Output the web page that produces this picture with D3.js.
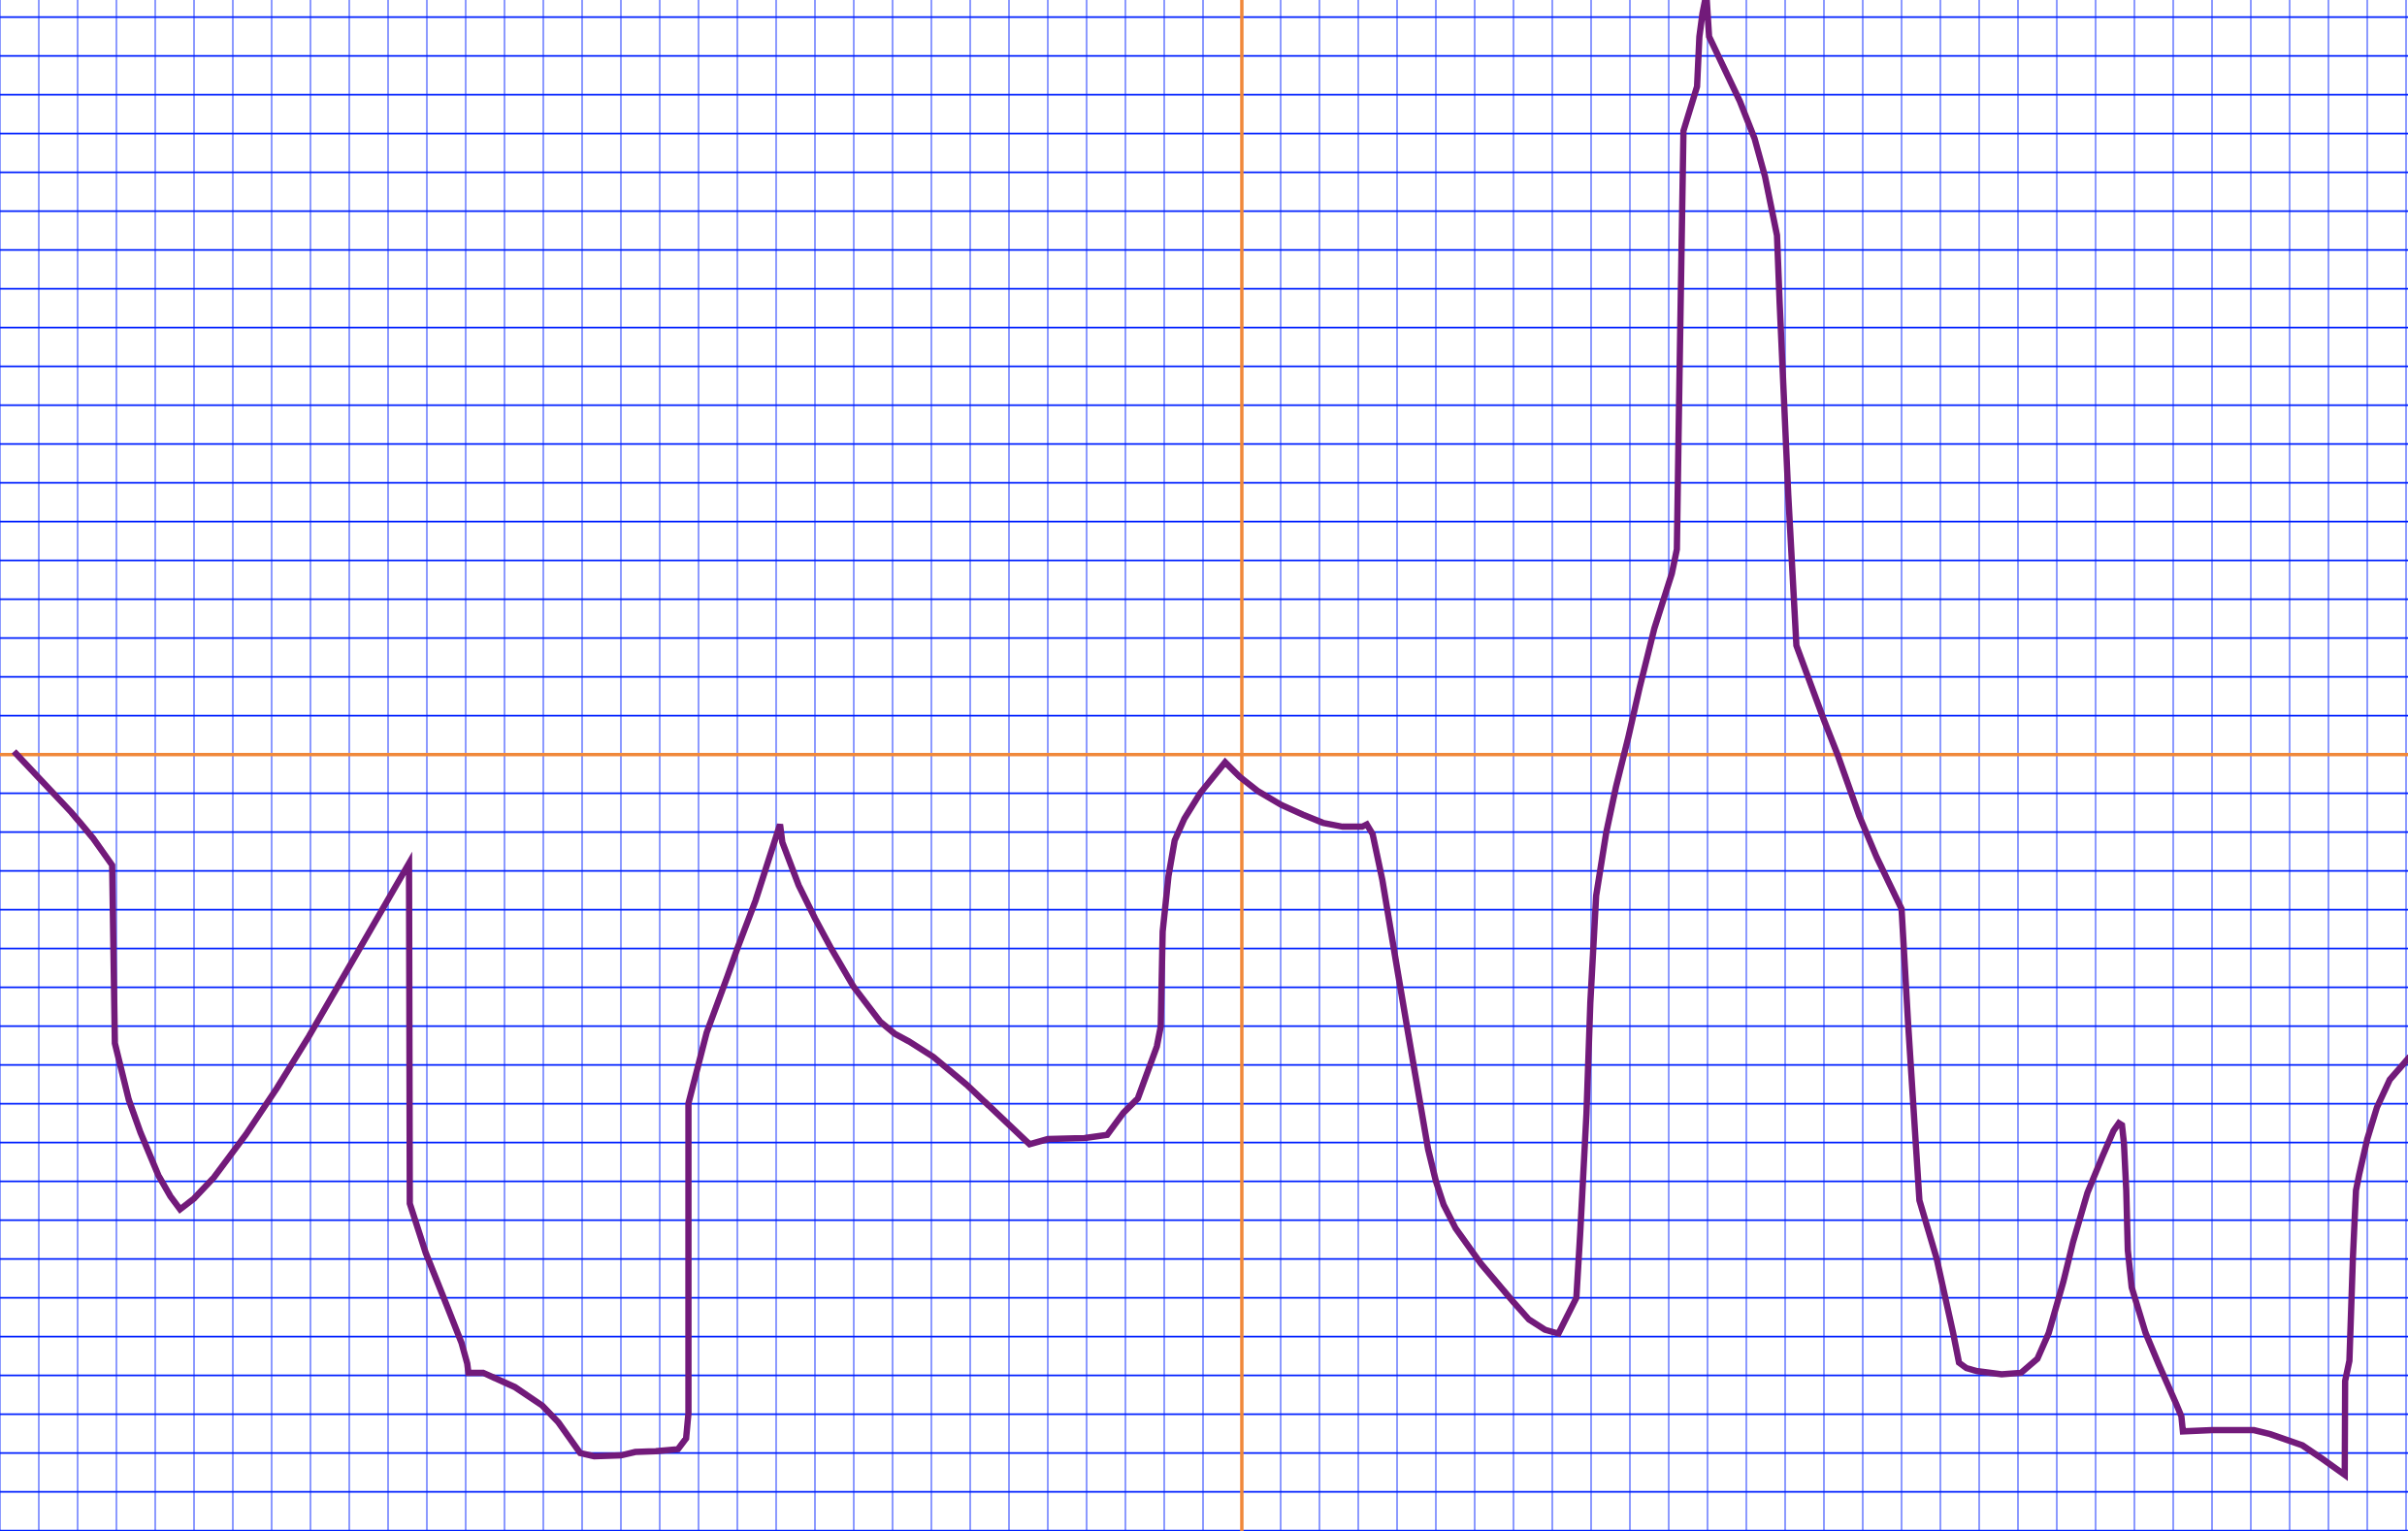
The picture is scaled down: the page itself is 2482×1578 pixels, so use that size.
<!DOCTYPE html>
<html>
<head>
<meta charset="utf-8">
<script src="https://cdn.jsdelivr.net/npm/d3@7"></script>
<style>
  html, body { margin: 0; padding: 0; background: #ffffff; overflow: hidden; }
  svg { display: block; }
</style>
</head>
<body>
<div id="chart"></div>
<script>
// ---- data ----
const xGridValues = d3.range(-32, 31, 1);   // vertical grid lines (x units)
const yGridValues = d3.range(-20, 20, 1);   // horizontal grid lines (y units)

const traceX = [
  -31.64, -30.16, -29.9, -29.6, -29.11, -29.04, -28.68, -28.38, -27.92, -27.61,
  -27.36, -27.0, -26.49, -25.67, -24.86, -24.04, -23.02, -21.46, -21.44, -21.03,
  -20.47, -20.11, -19.96, -19.93, -19.55, -18.73, -18.02, -17.61, -17.05, -16.69,
  -16.0, -15.63, -15.1, -14.53, -14.32, -14.26, -14.26, -13.79, -13.26, -13.0,
  -12.53, -11.9, -11.84, -11.42, -11.0, -10.58, -10.0, -9.32, -8.95, -8.58,
  -7.95, -7.1, -6.05, -5.47, -5.0, -4.05, -3.47, -3.05, -2.68, -2.19,
  -2.09, -2.04, -1.89, -1.73, -1.48, -1.07, -0.43, -0.05, 0.41, 1.02,
  1.58, 2.09, 2.6, 3.1, 3.22, 3.37, 3.62, 4.03, 4.29, 4.8,
  5.0, 5.2, 5.51, 6.17, 6.99, 7.4, 7.81, 8.16, 8.62, 8.72,
  8.88, 8.98, 9.13, 9.39, 9.64, 9.96, 10.25, 10.63, 11.08, 11.21,
  11.25, 11.29, 11.38, 11.73, 11.79, 11.87, 11.97, 12.04, 12.83, 13.21,
  13.48, 13.79, 13.86, 14.08, 14.29, 15.0, 15.35, 15.91, 16.36, 17.0,
  17.17, 17.46, 17.9, 18.33, 18.48, 18.67, 18.96, 19.58, 20.08, 20.5,
  20.79, 21.17, 21.42, 21.79, 22.17, 22.46, 22.6, 22.68, 22.73, 22.79,
  22.83, 22.93, 23.29, 23.63, 24.08, 24.21, 24.25, 25.0, 26.08, 26.5,
  27.33, 27.83, 28.42, 28.43, 28.54, 28.63, 28.71, 28.79, 29.0, 29.25,
  29.58, 30.1
];
const traceY = [
  0.08, -1.49, -1.8, -2.16, -2.85, -7.44, -8.9, -9.74, -10.84, -11.38,
  -11.72, -11.44, -10.9, -9.8, -8.59, -7.26, -5.5, -2.8, -11.57, -12.84,
  -14.24, -15.15, -15.69, -15.93, -15.93, -16.3, -16.78, -17.21, -18.0, -18.08,
  -18.06, -17.97, -17.95, -17.9, -17.62, -16.97, -8.99, -7.16, -5.73, -5.0,
  -3.76, -1.8, -2.26, -3.37, -4.22, -5.0, -5.99, -6.88, -7.19, -7.39,
  -7.79, -8.5, -9.49, -10.04, -9.91, -9.88, -9.8, -9.23, -8.86, -7.52,
  -7.01, -4.56, -3.13, -2.21, -1.65, -0.99, -0.2, -0.58, -0.94, -1.3,
  -1.55, -1.76, -1.86, -1.86, -1.8, -2.05, -3.23, -5.68, -7.21, -10.17,
  -10.99, -11.6, -12.21, -13.13, -14.1, -14.56, -14.82, -14.92, -14.0, -12.32,
  -9.26, -6.4, -3.64, -2.01, -0.84, 0.45, 1.72, 3.25, 4.66, 5.29,
  7.97, 10.52, 16.07, 17.21, 18.5, 19.1, 19.6, 18.5, 16.84, 15.88,
  14.9, 13.38, 11.6, 6.7, 2.81, 0.89, 0.0, -1.58, -2.65, -3.98,
  -6.95, -11.49, -12.97, -14.91, -15.67, -15.81, -15.89, -15.97, -15.93, -15.57,
  -14.91, -13.58, -12.56, -11.29, -10.37, -9.7, -9.5, -9.55, -10.01, -11.23,
  -12.77, -13.73, -14.91, -15.72, -16.74, -17.05, -17.44, -17.41, -17.41, -17.51,
  -17.8, -18.14, -18.56, -16.14, -15.62, -12.97, -11.23, -10.83, -9.91, -9.09,
  -8.38, -7.78
];

// ---- layout ----
const W = 2482, H = 1578;
const x = d3.scaleLinear().domain([-32, 30]).range([0, 2480]);
const y = d3.scaleLinear().domain([-20, 19]).range([1577.7, 17.7]);

const BLUE = "#0020ff";
const ORANGE = "#f0883a";
const PURPLE = "#721a7a";

const svg = d3.select("#chart").append("svg")
  .attr("width", W).attr("height", H)
  .attr("viewBox", `0 0 ${W} ${H}`);

svg.append("rect").attr("width", W).attr("height", H).attr("fill", "#ffffff");

// vertical grid (lighter)
svg.append("g").selectAll("line").data(xGridValues).join("line")
  .attr("x1", d => x(d)).attr("x2", d => x(d))
  .attr("y1", 0).attr("y2", H)
  .attr("stroke", BLUE).attr("stroke-opacity", 0.5).attr("stroke-width", 1.8);

// horizontal grid
svg.append("g").selectAll("line").data(yGridValues).join("line")
  .attr("x1", 0).attr("x2", W)
  .attr("y1", d => y(d)).attr("y2", d => y(d))
  .attr("stroke", BLUE).attr("stroke-width", 1.8);

// axes (orange)
svg.append("line")
  .attr("x1", 0).attr("x2", W).attr("y1", y(0)).attr("y2", y(0))
  .attr("stroke", ORANGE).attr("stroke-width", 3.5);
svg.append("line")
  .attr("x1", x(0)).attr("x2", x(0)).attr("y1", 0).attr("y2", H)
  .attr("stroke", ORANGE).attr("stroke-width", 3.5);

// trace
const pts = traceX.map((v, i) => [v, traceY[i]]);
const line = d3.line().x(d => x(d[0])).y(d => y(d[1])).curve(d3.curveLinear);
svg.append("path")
  .datum(pts)
  .attr("d", line)
  .attr("fill", "none")
  .attr("stroke", PURPLE)
  .attr("stroke-width", 6.5)
  .attr("stroke-linejoin", "miter")
  .attr("stroke-miterlimit", 4);
</script>
</body>
</html>
